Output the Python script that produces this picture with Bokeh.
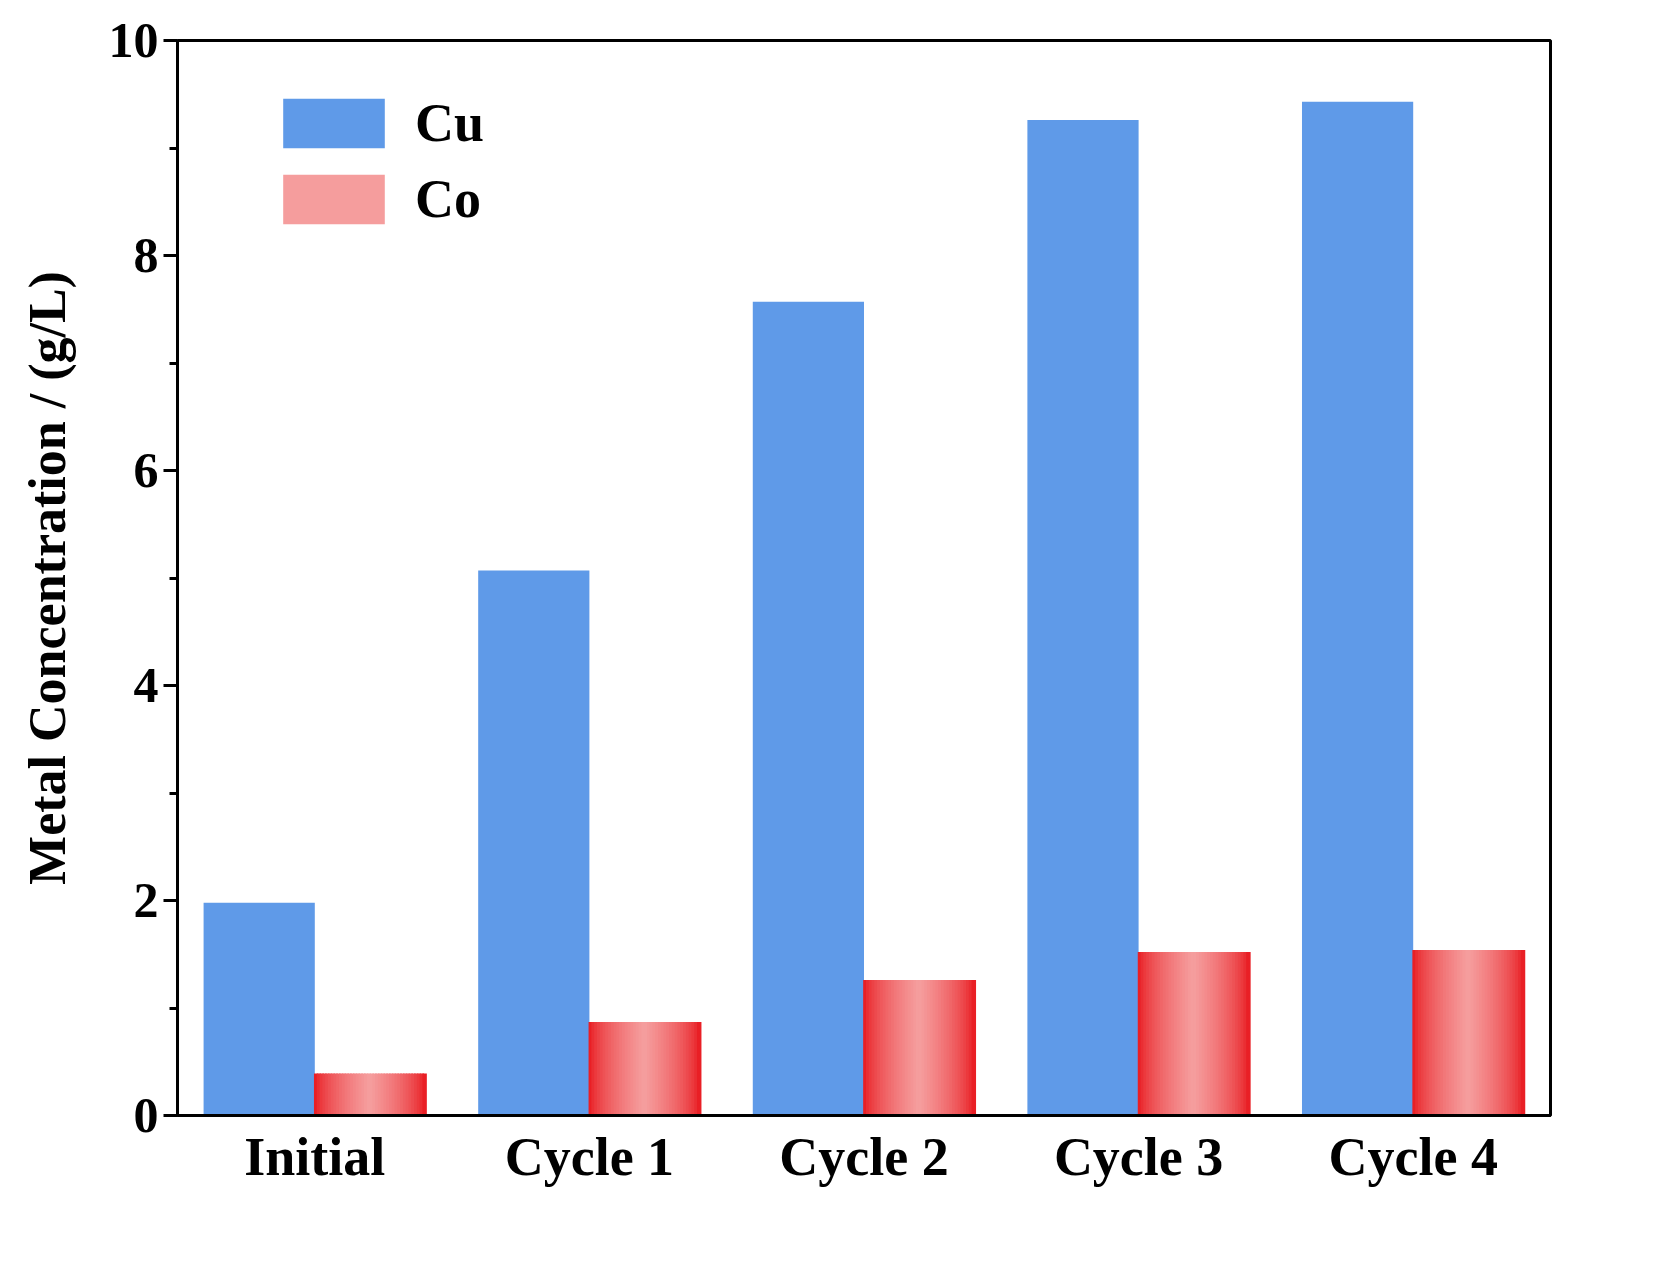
import numpy as np
from bokeh.plotting import figure
from bokeh.models import Legend, LegendItem, FixedTicker, Range1d
from bokeh.embed import file_html
from bokeh.resources import INLINE

categories = ["Initial", "Cycle 1", "Cycle 2", "Cycle 3", "Cycle 4"]
cu = [1.98, 5.07, 7.57, 9.26, 9.43]
co = [0.39, 0.87, 1.26, 1.52, 1.54]

FONT = "Liberation Serif"
p = figure(width=1570, height=1225, output_backend="svg", toolbar_location=None,
           x_range=Range1d(-0.5, 4.5), y_range=Range1d(0, 10),
           min_border_left=177, min_border_top=40, min_border_right=20, min_border_bottom=110)
p.grid.visible = False
p.outline_line_color = "black"; p.outline_line_width = 3

x = np.arange(len(categories))
w = 0.405
cu_r = p.vbar(x=x - w/2, top=cu, width=w, fill_color="#5f9ae8", line_color=None)

# gradient Co bars via strips
n = 40
c_edge = np.array([232, 16, 22]); c_mid = np.array([246, 160, 160])
co_r = None
for k in range(n):
    t = (k + 0.5) / n
    f = (1 - abs(2 * t - 1)) ** 0.6
    col = c_edge + (c_mid - c_edge) * f
    hexc = "#%02x%02x%02x" % tuple(int(v) for v in col)
    r = p.vbar(x=x + (k + 0.5) * w / n, top=co, width=w / n * 1.6, fill_color=hexc, line_color=None)
    if k == n // 2:
        co_r = r

p.xaxis.ticker = FixedTicker(ticks=list(x))
p.xaxis.major_label_overrides = {int(i): c for i, c in zip(x, categories)}
p.yaxis.ticker = FixedTicker(ticks=[0, 2, 4, 6, 8, 10], minor_ticks=[1, 3, 5, 7, 9])
for ax in (p.xaxis, p.yaxis):
    ax.axis_line_width = 3
    ax.major_label_text_font = FONT
    ax.major_label_text_font_style = "bold"
    ax.major_label_text_color = "black"
    ax.major_tick_line_width = 3
    ax.minor_tick_line_width = 3
p.xaxis.major_label_text_font_size = "54px"
p.yaxis.major_label_text_font_size = "50px"
p.xaxis.major_tick_line_color = None
p.xaxis.minor_tick_line_color = None
p.yaxis.major_tick_in = 0; p.yaxis.major_tick_out = 14
p.yaxis.minor_tick_in = 0; p.yaxis.minor_tick_out = 8
p.yaxis.axis_label = "Metal Concentration / (g/L)"
p.yaxis.axis_label_text_font = FONT
p.yaxis.axis_label_text_font_style = "bold"
p.yaxis.axis_label_text_font_size = "52px"
p.yaxis.axis_label_text_color = "black"
p.yaxis.axis_label_standoff = 30

legend = Legend(items=[LegendItem(label="Cu", renderers=[cu_r]), LegendItem(label="Co", renderers=[co_r])],
                location=(93, 885), glyph_width=127, glyph_height=62, label_text_font=FONT,
                label_text_font_style="bold", label_text_font_size="54px", label_text_color="black",
                background_fill_alpha=0, border_line_color=None, margin=0, padding=0,
                spacing=14, label_standoff=18)
p.add_layout(legend)

open("out.html", "w").write(file_html(p, INLINE))
